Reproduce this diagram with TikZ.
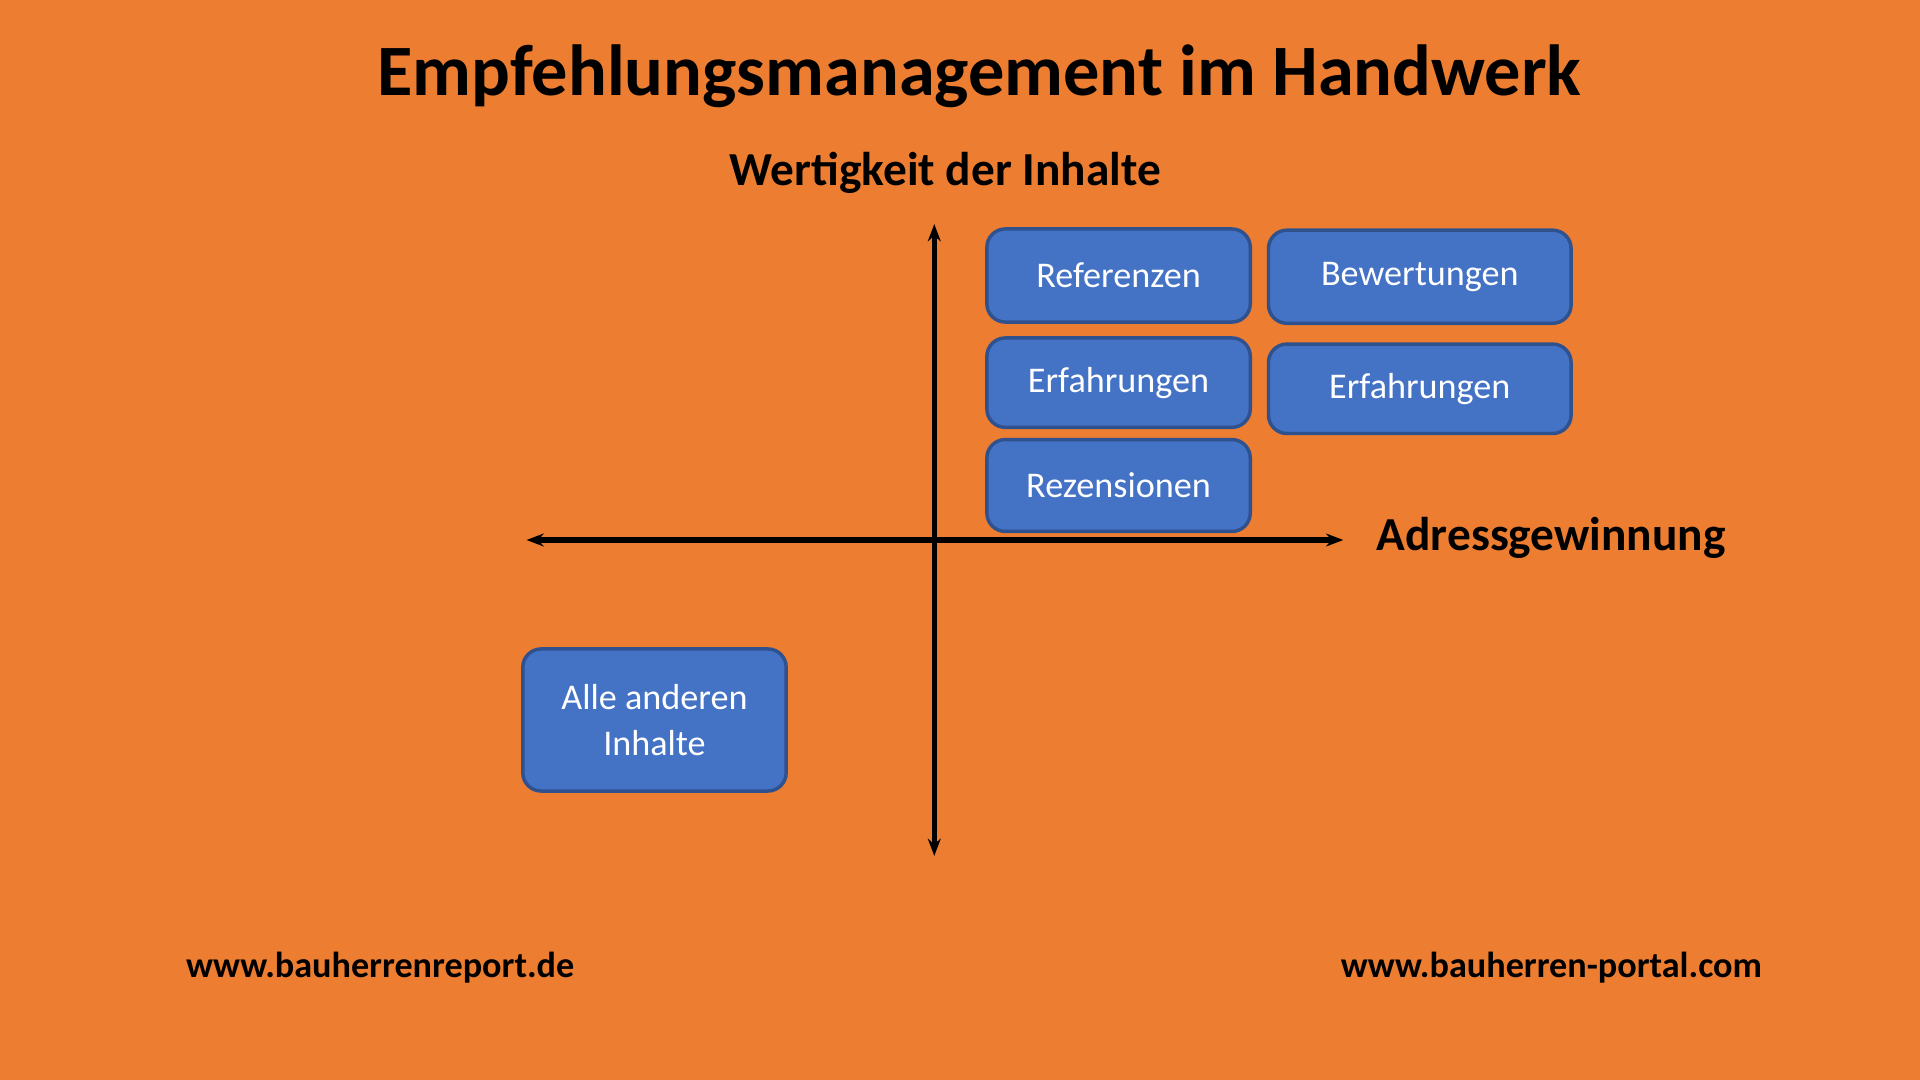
\documentclass[tikz,border=0pt]{standalone}
\usepackage{fontspec}
\usetikzlibrary{arrows.meta}
\setmainfont{Carlito}
\definecolor{bg}{HTML}{ED7D31}
\definecolor{boxf}{HTML}{4472C4}
\definecolor{boxd}{HTML}{2F528F}
\begin{document}
\begin{tikzpicture}[x=0.01cm,y=-0.01cm,
 bx/.style={draw=boxd,fill=boxf,rounded corners=0.15cm,line width=0.8pt,text=white,font=\fontsize{8.4pt}{10.5pt}\selectfont,align=center,inner sep=0pt},
 ax/.style={line width=1.2pt,{Stealth[length=4pt]}-{Stealth[length=4pt]}}]
\fill[bg] (0,0) rectangle (1568,882);
\useasboundingbox (0,0) rectangle (1568,882);
\node[font=\bfseries\fontsize{16.8pt}{19pt}\selectfont] (t) at (800,62) {Empfehlungsmanagement im Handwerk};
\node[font=\bfseries\fontsize{11pt}{13pt}\selectfont] (yl) at (772,141) {Wertigkeit der Inhalte};
\node[font=\bfseries\fontsize{11pt}{13pt}\selectfont,anchor=west] (xl) at (1112,439) {Adressgewinnung};
\coordinate (top) at (763,183); \coordinate (bot) at (763,699);
\coordinate (lft) at (430,441); \coordinate (rgt) at (1097,441);
\draw[ax] (top) -- (bot);
\draw[ax] (lft) -- (rgt);
\node[bx,minimum width=2.15cm,minimum height=0.76cm] (r) at (913.5,225) {Referenzen};
\node[bx,minimum width=2.47cm,minimum height=0.76cm] (b) at (1159.5,226) {Bewertungen};
\node[bx,minimum width=2.15cm,minimum height=0.73cm] (e1) at (913.5,312.5) {Erfahrungen};
\node[bx,minimum width=2.47cm,minimum height=0.73cm] (e2) at (1159.5,317.5) {Erfahrungen};
\node[bx,minimum width=2.15cm,minimum height=0.75cm] (rz) at (913.5,396.5) {Rezensionen};
\node[bx,minimum width=2.15cm,minimum height=1.16cm] (a) at (534.5,588) {Alle anderen\\Inhalte};
\node[font=\bfseries\fontsize{8.4pt}{10pt}\selectfont] (u1) at (310.5,790) {www.bauherrenreport.de};
\node[font=\bfseries\fontsize{8.4pt}{10pt}\selectfont] (u2) at (1267,790) {www.bauherren-portal.com};
\end{tikzpicture}
\end{document}
